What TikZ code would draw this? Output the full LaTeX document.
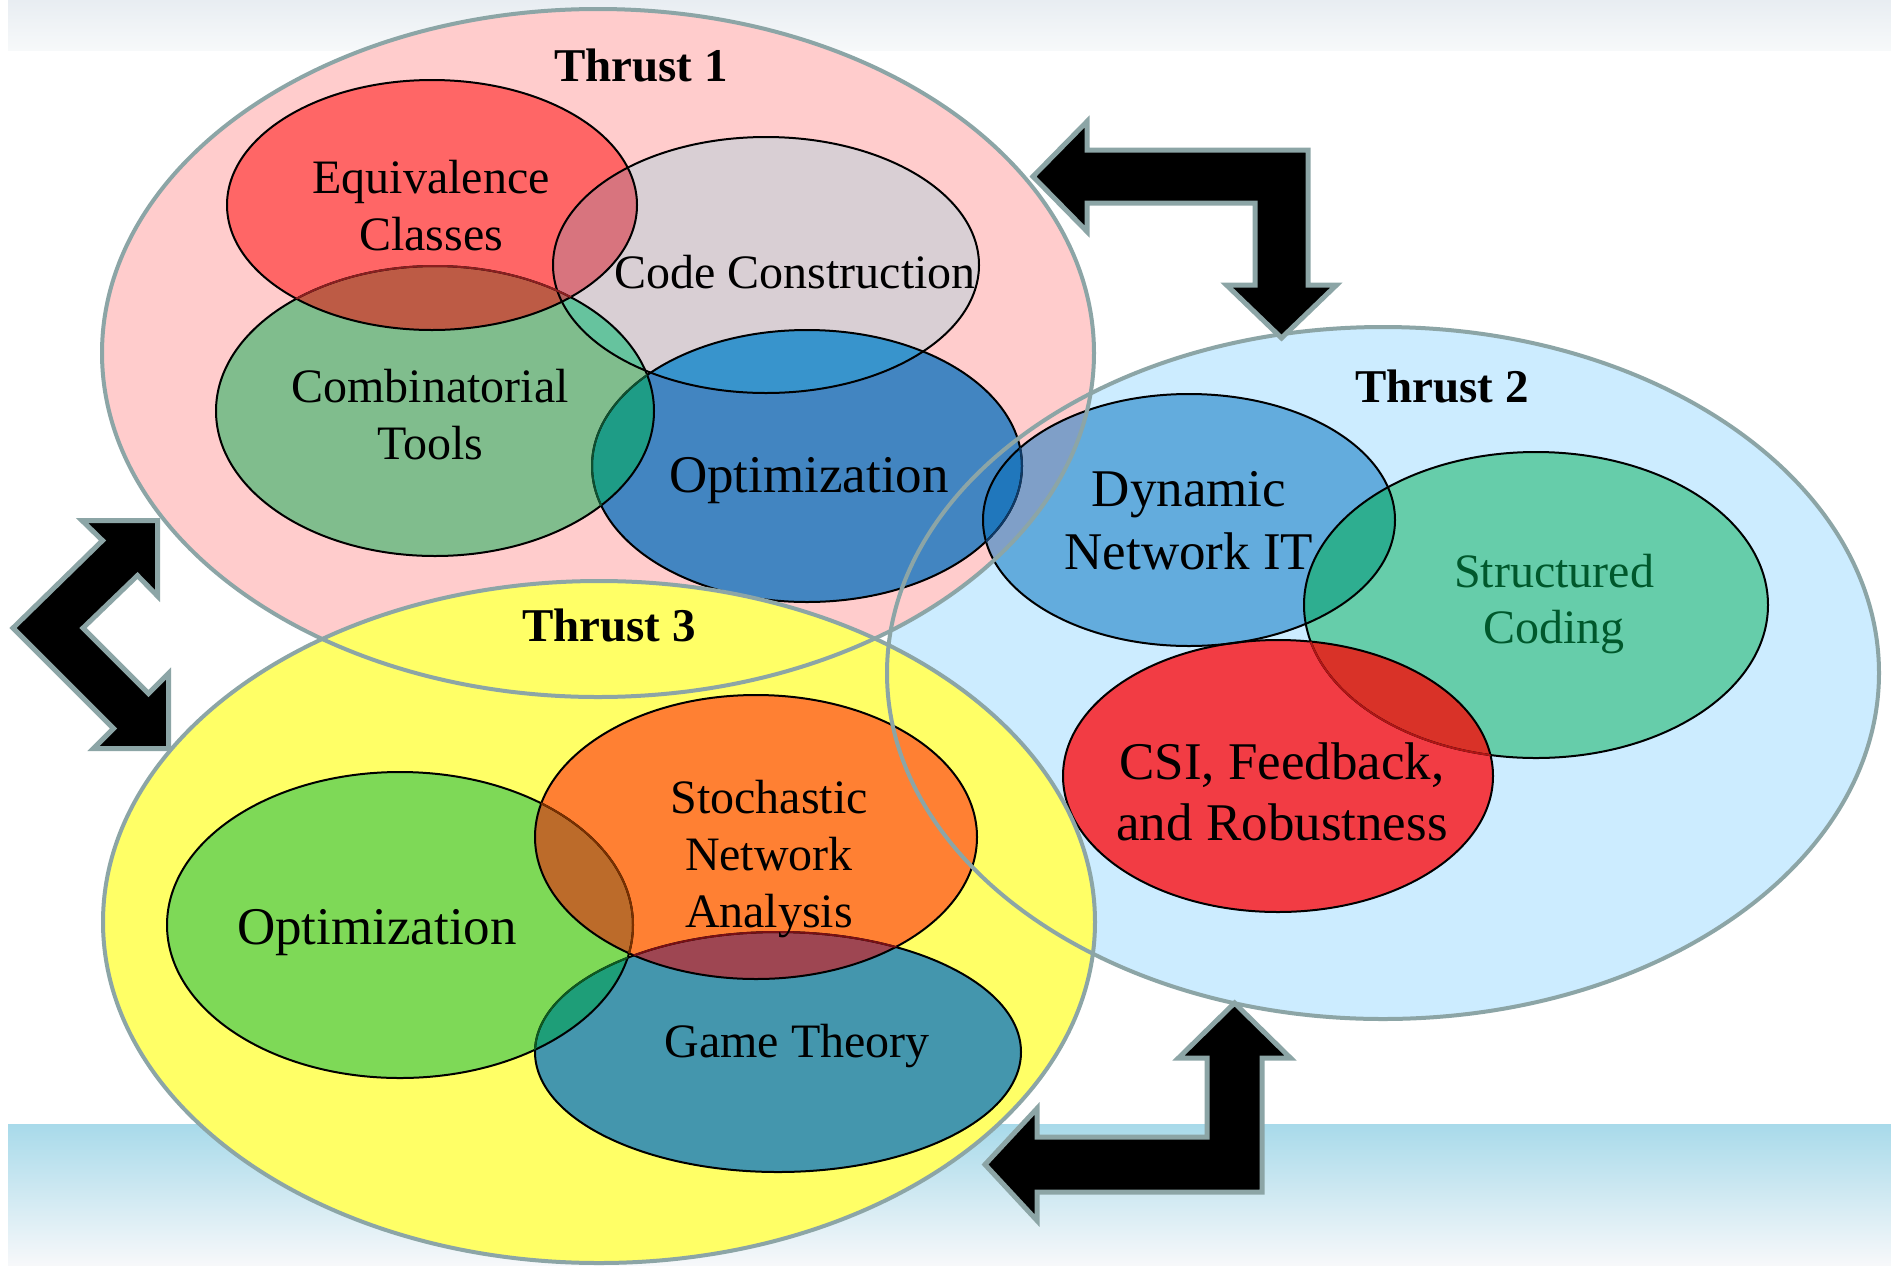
\documentclass[tikz,border=0pt]{standalone}
\usepackage{fontspec}
\setmainfont{Liberation Serif}
\definecolor{pinkT}{HTML}{FFCCCC}
\definecolor{blueT}{HTML}{CCECFF}
\definecolor{yelT}{HTML}{FFFF66}
\definecolor{grayB}{HTML}{8CA5A6}
\definecolor{cEq}{HTML}{FF6666}
\definecolor{cCo}{HTML}{D9CFD4}
\definecolor{cCb}{HTML}{80BD8D}
\definecolor{cOa}{HTML}{4285C1}
\definecolor{cDy}{HTML}{63ACDD}
\definecolor{cDyP}{HTML}{7F9FC8}
\definecolor{cDyO}{HTML}{2077BC}
\definecolor{cSt}{HTML}{66CDAA}
\definecolor{cCs}{HTML}{F23C44}
\definecolor{cOb}{HTML}{7ED957}
\definecolor{cSn}{HTML}{FF8033}
\definecolor{cGt}{HTML}{4496AD}
\definecolor{cEqCb}{HTML}{BD5B45}
\definecolor{cEqCo}{HTML}{D8747E}
\definecolor{cCbCo}{HTML}{66C39E}
\definecolor{cCbOa}{HTML}{1E9C86}
\definecolor{cCoOa}{HTML}{3894CC}
\definecolor{cEqCbCo}{HTML}{B0605A}
\definecolor{cDySt}{HTML}{2EAE90}
\definecolor{cCsSt}{HTML}{D93228}
\definecolor{cObSn}{HTML}{BC6B2A}
\definecolor{cSnGt}{HTML}{9E4652}
\definecolor{cObGt}{HTML}{1E9E78}
\definecolor{strT}{HTML}{00582C}
\definecolor{topA}{HTML}{E8EDF2}
\definecolor{topB}{HTML}{F7F9FA}
\definecolor{botA}{HTML}{A8DAEA}
\definecolor{botB}{HTML}{B3D3E6}
\definecolor{botC}{HTML}{F7F8FA}
\definecolor{tRed}{HTML}{8A1F1F}
\definecolor{tGreen}{HTML}{0E5030}
\definecolor{tBlue}{HTML}{0F3A66}
\definecolor{tRed2}{HTML}{B01515}
\definecolor{tBrown}{HTML}{7A3000}
\definecolor{tMaroon}{HTML}{7A0F14}
\definecolor{tGreen2}{HTML}{0E5A20}
\newcommand\TaP{(598,353) ellipse [x radius=248pt, y radius=172pt]}
\newcommand\TbP{(1383,673) ellipse [x radius=248pt, y radius=173pt]}
\newcommand\TcP{(599,922) ellipse [x radius=248pt, y radius=170.5pt]}
\newcommand\EqP{(432,205) ellipse [x radius=102.5pt, y radius=62.5pt]}
\newcommand\CoP{(766,265) ellipse [x radius=106.5pt, y radius=64pt]}
\newcommand\CbP{(435,411) ellipse [x radius=109.5pt, y radius=72.5pt]}
\newcommand\OaP{(807,466) ellipse [x radius=107.5pt, y radius=68pt]}
\newcommand\DyP{(1189,520) ellipse [x radius=103pt, y radius=63pt]}
\newcommand\StP{(1536,605) ellipse [x radius=116pt, y radius=76.5pt]}
\newcommand\CsP{(1278,776) ellipse [x radius=107.5pt, y radius=68pt]}
\newcommand\ObP{(400,925) ellipse [x radius=116.5pt, y radius=76.5pt]}
\newcommand\SnP{(756,837) ellipse [x radius=110.5pt, y radius=71pt]}
\newcommand\GtP{(778,1052) ellipse [x radius=121.5pt, y radius=60pt]}
\tikzset{
  bigborder/.style={draw=grayB, line width=2pt},
  subborder/.style={draw=black, line width=1pt},
  blockarrow/.style={fill=black, draw=grayB, line width=2.5pt, line join=miter},
  lbl/.style={font=\fontsize{24}{28.5}\selectfont, inner sep=0pt, anchor=base},
  lblL/.style={font=\fontsize{26.5}{31.5}\selectfont, inner sep=0pt, anchor=base},
  thr/.style={font=\bfseries\fontsize{23.5}{28}\selectfont, inner sep=0pt, anchor=base}
}
\begin{document}
\begin{tikzpicture}[x=0.5pt,y=-0.5pt]
\useasboundingbox (0,0) rectangle (1891,1265);
\fill[white] (0,0) rectangle (1891,1265);
% background bands
\shade[top color=topA, bottom color=topB] (8,0) rectangle (1891,50);
\shade[top color=botA, middle color=botB, bottom color=botC] (8,1124) rectangle (1891,1265);
% big fills
\fill[blueT] \TbP;
\fill[pinkT] \TaP;
\fill[yelT] \TcP;
% Thrust 1 subsets
\fill[cOa] \OaP;
\fill[cCb] \CbP;
\fill[cEq] \EqP;
\fill[cCo] \CoP;
\begin{scope}\clip \EqP; \fill[cEqCb] \CbP; \end{scope}
\begin{scope}\clip \EqP; \fill[cEqCo] \CoP; \end{scope}
\begin{scope}\clip \CbP; \fill[cCbCo] \CoP; \end{scope}
\begin{scope}\clip \CbP; \fill[cCbOa] \OaP; \end{scope}
\begin{scope}\clip \CoP; \fill[cCoOa] \OaP; \end{scope}
\begin{scope}\clip \EqP; \clip \CbP; \fill[cEqCbCo] \CoP; \end{scope}
\begin{scope}\clip \CbP; \clip \CoP; \fill[cCbOa] \OaP; \end{scope}
% Thrust 2 subsets
\fill[cSt] \StP;
\fill[cCs] \CsP;
\begin{scope}\clip \StP; \fill[cCsSt] \CsP; \end{scope}
\fill[cDy] \DyP;
\begin{scope}\clip \TaP; \fill[cDyP] \DyP; \end{scope}
\begin{scope}\clip \OaP; \fill[cDyO] \DyP; \end{scope}
\begin{scope}\clip \StP; \fill[cDySt] \DyP; \end{scope}
% Thrust 3 subsets
\fill[cGt] \GtP;
\fill[cOb] \ObP;
\fill[cSn] \SnP;
\begin{scope}\clip \ObP; \fill[cObSn] \SnP; \end{scope}
\begin{scope}\clip \SnP; \fill[cSnGt] \GtP; \end{scope}
\begin{scope}\clip \ObP; \fill[cObGt] \GtP; \end{scope}
% sub borders
\draw[subborder] \OaP;
\draw[subborder] \CbP;
\draw[subborder] \EqP;
\draw[subborder] \CoP;
\draw[subborder] \StP;
\draw[subborder] \CsP;
\draw[subborder] \DyP;
\draw[subborder] \GtP;
\draw[subborder] \ObP;
\draw[subborder] \SnP;
\begin{scope}\clip \EqP; \draw[subborder, draw=tRed] \CbP; \end{scope}
\begin{scope}\clip \CbP; \draw[subborder, draw=tGreen] \OaP; \end{scope}
\begin{scope}\clip \DyP; \draw[subborder, draw=tBlue] \OaP; \end{scope}
\begin{scope}\clip \CsP; \draw[subborder, draw=tRed2] \StP; \end{scope}
\begin{scope}\clip \SnP; \draw[subborder, draw=tBrown] \ObP; \end{scope}
\begin{scope}\clip \SnP; \draw[subborder, draw=tMaroon] \GtP; \end{scope}
\begin{scope}\clip \ObP; \draw[subborder, draw=tGreen2] \GtP; \end{scope}
% big borders
\draw[bigborder] \TaP;
\draw[bigborder] \TbP;
\draw[bigborder] \TcP;
% block arrows
\draw[blockarrow] (1033,176.5) -- (1087,121.5) -- (1087,150) -- (1308,150) -- (1308,285) -- (1336.5,285) -- (1281.5,338) -- (1226.5,285) -- (1255,285) -- (1255,203) -- (1087,203) -- (1087,231.5) -- cycle;
\draw[blockarrow] (1234.5,1003) -- (1290.5,1058) -- (1262,1058) -- (1262,1192) -- (1037,1192) -- (1037,1220.5) -- (985,1164.5) -- (1037,1108.5) -- (1037,1137) -- (1207,1137) -- (1207,1058) -- (1178.5,1058) -- cycle;
\draw[blockarrow] (13,628) -- (102.5,540.5) -- (82,520.5) -- (157.5,520.5) -- (157.5,596) -- (137.5,575.5) -- (83,628) -- (148.5,693.5) -- (168.5,673.5) -- (168.5,748.5) -- (93.5,748.5) -- (113.5,728.5) -- cycle;
% labels
\node[thr] (t1) at (641,81) {Thrust 1};
\node[thr] (t2) at (1442,402) {Thrust 2};
\node[thr] (t3) at (609,641) {Thrust 3};
\node[lbl] (eq) at (431,193) {\begin{tabular}[t]{@{}c@{}}Equivalence\\Classes\end{tabular}};
\node[lbl] (co) at (795,288) {Code Construction};
\node[lbl] (cb) at (430,402) {\begin{tabular}[t]{@{}c@{}}Combinatorial\\Tools\end{tabular}};
\node[lblL] (oa) at (809,492) {Optimization};
\node[lblL] (dy) at (1189,506) {\begin{tabular}[t]{@{}c@{}}Dynamic\\Network IT\end{tabular}};
\node[lbl, text=strT, font=\fontsize{24}{28}\selectfont] (st) at (1554,587) {\begin{tabular}[t]{@{}c@{}}Structured\\Coding\end{tabular}};
\node[lblL, font=\fontsize{26.5}{30.5}\selectfont] (cs) at (1282,779) {\begin{tabular}[t]{@{}c@{}}CSI, Feedback,\\and Robustness\end{tabular}};
\node[lblL] (ob) at (377,944) {Optimization};
\node[lbl] (sn) at (769,813) {\begin{tabular}[t]{@{}c@{}}Stochastic\\Network\\Analysis\end{tabular}};
\node[lbl] (gt) at (797,1057) {Game Theory};
\end{tikzpicture}
\end{document}
